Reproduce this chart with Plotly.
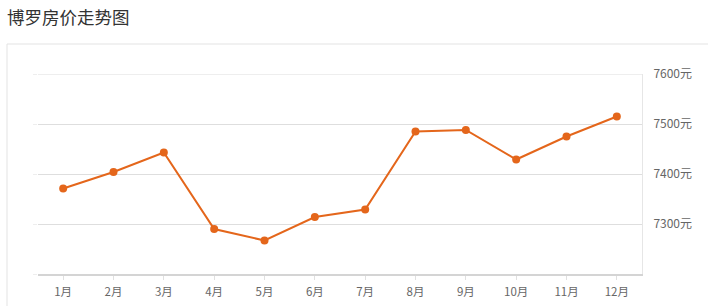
import plotly.graph_objects as go

months = ["1月", "2月", "3月", "4月", "5月", "6月", "7月", "8月", "9月", "10月", "11月", "12月"]
prices = [7371, 7404, 7443, 7290, 7267, 7314, 7329, 7485, 7488, 7429, 7475, 7515]
y_ticks = [7300, 7400, 7500, 7600]
y_tick_labels = ["7300元", "7400元", "7500元", "7600元"]
title_text = "博罗房价走势图"

W, H = 708, 306
FONT = "Noto Sans CJK SC, Microsoft YaHei, sans-serif"
LINE_COLOR = "#e4661b"
GRID = "#dedede"

fig = go.Figure()
fig.add_trace(go.Scatter(
    x=months, y=prices, mode="lines+markers",
    line=dict(color=LINE_COLOR, width=2),
    marker=dict(color=LINE_COLOR, size=8),
    hoverinfo="x+y", showlegend=False,
))
# invisible trace on the left axis to show faint left tick marks
fig.add_trace(go.Scatter(x=[months[0]], y=[prices[0]], yaxis="y2",
                         mode="markers", marker=dict(opacity=0),
                         hoverinfo="skip", showlegend=False))

fig.update_layout(
    width=W, height=H,
    margin=dict(l=0, r=0, t=0, b=0),
    paper_bgcolor="white", plot_bgcolor="white",
    font=dict(family=FONT, color="#666", size=11),
    xaxis=dict(
        domain=[38 / W, 642 / W],
        type="category", range=[-0.5, 11.5],
        showgrid=False, zeroline=False,
        showline=True, linecolor="#d4d4d4", linewidth=2,
        ticks="outside", ticklen=4, tickcolor="#e0e0e0",
        tickfont=dict(size=11.5, color="#666", family=FONT),
        ticklabelstandoff=2, automargin=False, fixedrange=True,
    ),
    yaxis=dict(
        domain=[32 / H, 232 / H],
        range=[7200, 7600], side="right",
        tickvals=y_ticks, ticktext=y_tick_labels,
        showgrid=True, gridcolor=GRID, gridwidth=1,
        zeroline=False,
        showline=True, linecolor="#e6e6e6", linewidth=1,
        ticks="", tickfont=dict(size=12, color="#666", family=FONT),
        ticklabelstandoff=8, automargin=False, fixedrange=True,
    ),
    yaxis2=dict(
        overlaying="y", side="left", range=[7200, 7600],
        tickvals=y_ticks + [7200], showticklabels=False,
        ticks="outside", ticklen=4, tickcolor="#eeeeee",
        showgrid=False, zeroline=False, showline=False,
        automargin=False, fixedrange=True,
    ),
    shapes=[
        dict(type="line", xref="x domain", yref="y",
             x0=0, x1=1, y0=y_ticks[-1], y1=y_ticks[-1],
             line=dict(color=GRID, width=1), layer="below"),
        dict(type="line", xref="paper", yref="paper",
             x0=7 / W, x1=1, y0=(H - 44) / H, y1=(H - 44) / H,
             line=dict(color="#e3e3e3", width=1), layer="below"),
        dict(type="line", xref="paper", yref="paper",
             x0=7 / W, x1=7 / W, y0=0, y1=(H - 44) / H,
             line=dict(color="#e3e3e3", width=1), layer="below"),
    ],
    annotations=[
        dict(text=title_text, xref="paper", yref="paper",
             x=5 / W, y=(H - 16) / H, xanchor="left", yanchor="middle",
             showarrow=False, font=dict(size=17.5, color="#333", family=FONT)),
    ],
)

fig.write_html("out.html")
